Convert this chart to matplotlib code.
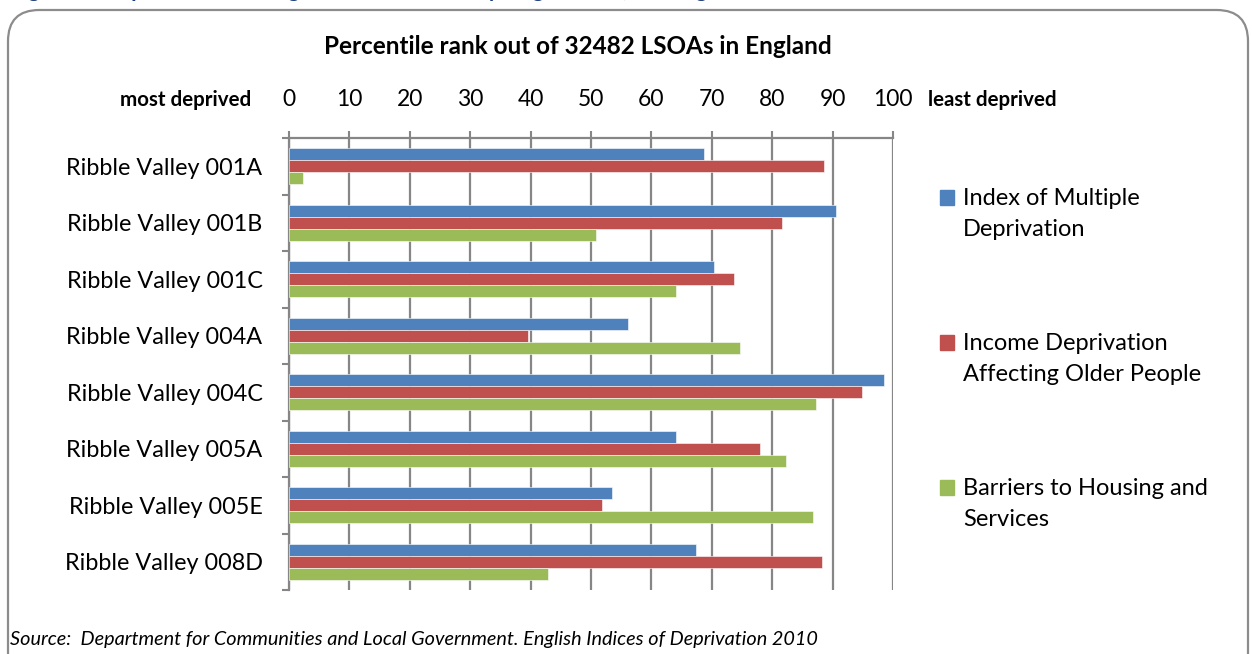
import matplotlib
matplotlib.use("Agg")
import matplotlib.pyplot as plt
from matplotlib.patches import FancyBboxPatch, Rectangle
import numpy as np

areas = ["Ribble Valley 001A", "Ribble Valley 001B", "Ribble Valley 001C",
         "Ribble Valley 004A", "Ribble Valley 004C", "Ribble Valley 005A",
         "Ribble Valley 005E", "Ribble Valley 008D"]
imd = [68.7, 90.6, 70.4, 56.2, 98.5, 64.1, 53.5, 67.4]
income_older = [88.6, 81.7, 73.7, 39.6, 94.9, 78.0, 51.8, 88.3]
barriers = [2.4, 50.8, 64.1, 74.7, 87.3, 82.3, 86.7, 42.9]
series_names = ["Index of Multiple\nDeprivation",
                "Income Deprivation\nAffecting Older People",
                "Barriers to Housing and\nServices"]
series_colors = ["#4F81BD", "#C0504D", "#9BBB59"]
xticks = [0, 10, 20, 30, 40, 50, 60, 70, 80, 90, 100]

plt.rcParams['font.family'] = ['Lato', 'DejaVu Sans']

W, H = 1252, 654
fig = plt.figure(figsize=(W / 100, H / 100), dpi=100)

# rounded frame
frame = FancyBboxPatch((8 / W, -30 / H), (1240) / W, (30 + 644) / H,
                       boxstyle="round,pad=0,rounding_size=0.025",
                       transform=fig.transFigure, fill=False,
                       edgecolor="#8c8c8c", linewidth=1.6,
                       mutation_aspect=W / H)
fig.patches.append(frame)

# cut-off figure caption at the top
fig.text(0.008, 1 + 2.5 / H,
         "Figure 3: Deprivation ranking of the Ribble Valley target areas, ranking out of all LSOAs",
         color="#1F3F7A", fontsize=16, fontweight="bold", va="baseline", ha="left")

ax = fig.add_axes([289 / W, 1 - 590 / H, (893 - 289) / W, (590 - 138) / H])

n = len(areas)
y = np.arange(n)
bh = 0.215
for i, (vals, col) in enumerate(zip([imd, income_older, barriers], series_colors)):
    ax.barh(y + (i - 1) * bh, vals, height=bh, color=col, zorder=3,
            edgecolor="white", linewidth=0.4)

ax.set_xlim(0, 100)
ax.set_ylim(n - 0.5, -0.5)
ax.xaxis.tick_top()
ax.set_xticks(xticks)
ax.set_xticklabels([str(t) for t in xticks], fontsize=16.5)
ax.tick_params(axis="x", length=5, width=1.5, color="#868686", pad=15)
ax.grid(axis="x", color="#868686", linewidth=1.6, zorder=0)
ax.set_yticks(y)
ax.set_yticklabels(areas, fontsize=16.8)
ax.tick_params(axis="y", length=0, pad=19)
ax.set_yticks(np.arange(n + 1) - 0.5, minor=True)
ax.tick_params(axis="y", which="minor", length=5, width=1.5, color="#868686")
for s in ["right", "bottom"]:
    ax.spines[s].set_visible(False)
for s in ["left", "top"]:
    ax.spines[s].set_color("#868686")
    ax.spines[s].set_linewidth(1.6)

fig.text(578 / W, 1 - 47 / H, "Percentile rank out of 32482 LSOAs in England",
         ha="center", va="center", fontsize=17.5, fontweight="bold")
fig.text(186 / W, 1 - 100 / H, "most deprived", ha="center", va="center",
         fontsize=14.8, fontweight="bold")
fig.text(992 / W, 1 - 100 / H, "least deprived", ha="center", va="center",
         fontsize=14.8, fontweight="bold")

# legend
for k, (name, col) in enumerate(zip(series_names, series_colors)):
    top = 190 + k * 145
    fig.patches.append(Rectangle((940 / W, 1 - (top + 15) / H), 14 / W, 15 / H,
                                 transform=fig.transFigure, color=col))
    fig.text(963 / W, 1 - (top - 2) / H, name, ha="left", va="top",
             fontsize=17, linespacing=1.6)

fig.text(10 / W, 1 - 640 / H,
         "Source:  Department for Communities and Local Government. English Indices of Deprivation 2010",
         ha="left", va="center", fontsize=14.3, style="italic")

fig.savefig("out.png", dpi=100)
